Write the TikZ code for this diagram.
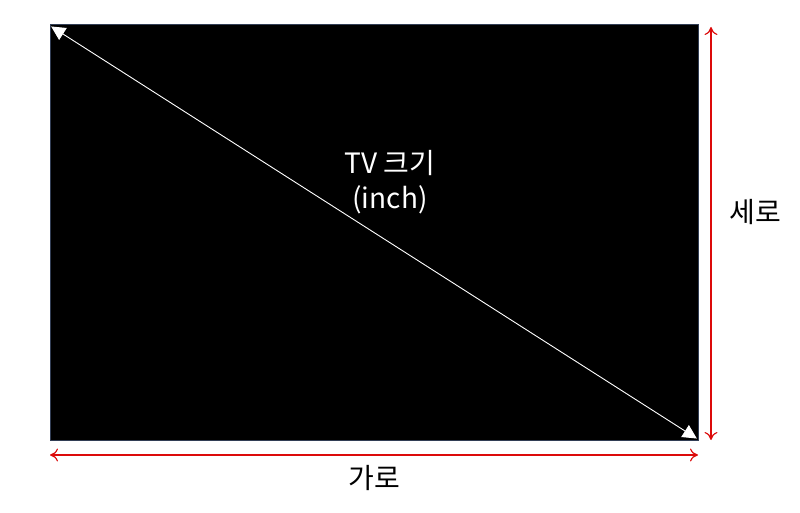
\documentclass[tikz,border=0pt]{standalone}
\usepackage{fontspec}
\setmainfont{Noto Sans CJK KR}
\usetikzlibrary{arrows.meta}
\definecolor{dimred}{RGB}{220,10,10}
\definecolor{edgeblue}{RGB}{50,62,85}
\tikzset{
  screen/.style={fill=black,draw=edgeblue,line width=1pt},
  diag/.style={white,line width=0.9pt,{Triangle[width=14pt,length=14pt]}-{Triangle[width=14pt,length=14pt]},shorten <=-1pt,shorten >=-1pt},
  dim/.style={dimred,line width=1.2pt,{To[width=13pt,length=8pt]}-{To[width=13pt,length=8pt]}},
  lbl/.style={font=\fontsize{28}{35}\selectfont,align=center,inner sep=0pt}
}
\begin{document}
\begin{tikzpicture}[x=1pt,y=-1pt]
\useasboundingbox (0,0) rectangle (800,513);
\fill[white] (0,0) rectangle (800,513);
\draw[screen] (50,25) rectangle (698,440);
\coordinate (tl) at (52,27);
\coordinate (br) at (696,438);
\draw[diag] (tl) -- (br);
\coordinate (vt) at (711,27);
\coordinate (vb) at (711,440);
\draw[dim] (vt) -- (vb);
\coordinate (hl) at (50,455);
\coordinate (hr) at (698,455);
\draw[dim] (hl) -- (hr);
\node[lbl,white] (tv) at (390,182) {TV 크기\\(inch)};
\node[lbl] (sero) at (755,212) {세로};
\node[lbl] (garo) at (374,478) {가로};
\end{tikzpicture}
\end{document}
